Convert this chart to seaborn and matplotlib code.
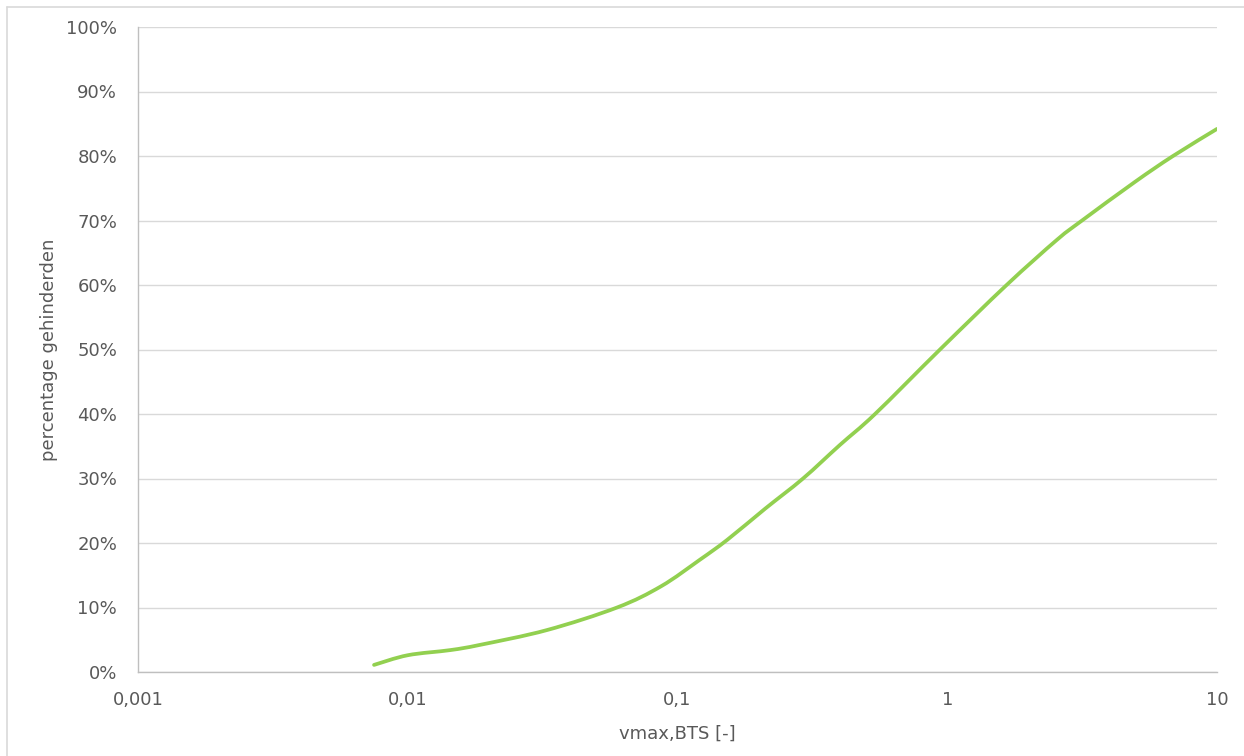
import matplotlib
matplotlib.use("Agg")
import matplotlib.pyplot as plt
from matplotlib.lines import Line2D
from matplotlib.path import Path
from matplotlib.patches import PathPatch
from matplotlib.ticker import FixedLocator, FixedFormatter, FuncFormatter
import seaborn as sns
import pandas as pd
import numpy as np

# Hindrance curve: maximum vibration velocity vs. share of people hindered
vmax_bts = [0.0075, 0.01, 0.0144, 0.0185, 0.0328, 0.0597, 0.087, 0.121, 0.153,
            0.211, 0.292, 0.40, 0.54, 0.94, 1.66, 2.55, 3.16, 4.97, 6.87, 10.0]
pct_hindered = [1.1, 2.6, 3.4, 4.2, 6.5, 10.0, 13.3, 17.4, 20.5,
                25.3, 30.0, 35.2, 40.0, 50.0, 60.0, 67.0, 70.0, 76.0, 80.0, 84.2]

x_ticks = [0.001, 0.01, 0.1, 1, 10]
x_tick_labels = ["0,001", "0,01", "0,1", "1", "10"]
y_ticks = [0, 10, 20, 30, 40, 50, 60, 70, 80, 90, 100]

df = pd.DataFrame({"vmax": vmax_bts, "pct": pct_hindered})

sns.set_theme(style="white")
plt.rcParams["font.family"] = ["DejaVu Sans"]

W, H = 1244, 756
fig = plt.figure(figsize=(W / 100, H / 100), dpi=100)
ax = fig.add_axes([138 / W, 1 - 672 / H, (1217 - 138) / W, (672 - 27) / H])

line_color = "#92D050"
sns.lineplot(data=df, x="vmax", y="pct", ax=ax, color=line_color,
             linewidth=2.7, sort=False)

ax.set_xscale("log")
ax.set_xlim(0.001, 10)
ax.set_ylim(0, 100)

# Smoothed rendering of the series (Catmull-Rom style Bezier through the points,
# built in log-x space so it follows the axis scale)
line = ax.lines[0]
xd, yd = line.get_data()
lx = np.log10(np.asarray(xd, dtype=float))
ly = np.asarray(yd, dtype=float)
pts = np.column_stack([lx, ly])
n = len(pts)
verts = [pts[0]]
codes = [Path.MOVETO]
for i in range(n - 1):
    p0 = pts[i - 1] if i > 0 else pts[i]
    p1 = pts[i]
    p2 = pts[i + 1]
    p3 = pts[i + 2] if i + 2 < n else pts[i + 1]
    c1 = p1 + (p2 - p0) / 6.0
    c2 = p2 - (p3 - p1) / 6.0
    verts.extend([c1, c2, p2])
    codes.extend([Path.CURVE4] * 3)
verts = np.array(verts)
verts[:, 0] = 10 ** verts[:, 0]
ax.add_patch(PathPatch(Path(verts, codes), facecolor="none", edgecolor=line_color,
                       linewidth=2.7, capstyle="round", joinstyle="round"))
line.remove()

ax.xaxis.set_major_locator(FixedLocator(x_ticks))
ax.xaxis.set_major_formatter(FixedFormatter(x_tick_labels))
ax.xaxis.set_minor_locator(FixedLocator([]))
ax.yaxis.set_major_locator(FixedLocator(y_ticks))
ax.yaxis.set_major_formatter(FuncFormatter(lambda v, p: f"{int(round(v))}%"))

ax.grid(axis="y", color="#D9D9D9", linewidth=1.0)
ax.grid(axis="x", visible=False)
ax.set_axisbelow(True)

for side in ("top", "right"):
    ax.spines[side].set_visible(False)
for side in ("left", "bottom"):
    ax.spines[side].set_color("#BFBFBF")
    ax.spines[side].set_linewidth(1.0)

label_color = "#595959"
ax.tick_params(axis="both", length=0, labelsize=13, labelcolor=label_color)
ax.tick_params(axis="y", pad=15)
ax.tick_params(axis="x", pad=14)

ax.set_xlabel("vmax,BTS [-]", fontsize=13, color=label_color, labelpad=11)
ax.set_ylabel("percentage gehinderden", fontsize=13, color=label_color, labelpad=6)

# chart-area frame: top and left edges
fig.add_artist(Line2D([7 / W, 1], [1 - 7 / H, 1 - 7 / H], transform=fig.transFigure,
                      color="#D9D9D9", linewidth=1.2))
fig.add_artist(Line2D([7 / W, 7 / W], [0, 1 - 7 / H], transform=fig.transFigure,
                      color="#D9D9D9", linewidth=1.2))

fig.savefig("out.png", dpi=100, facecolor="white")
